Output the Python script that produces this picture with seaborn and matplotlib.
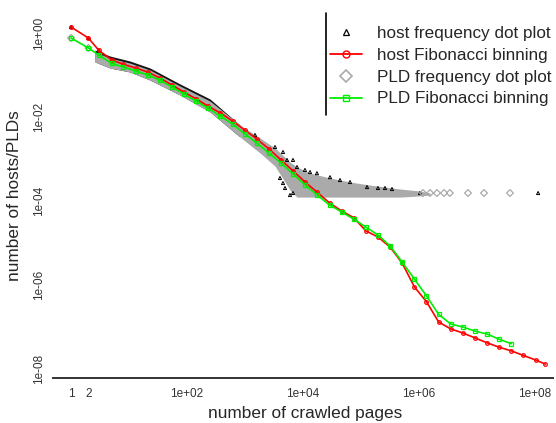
import pandas as pd
import seaborn as sns
import matplotlib.pyplot as plt
from matplotlib.lines import Line2D
from matplotlib.ticker import FixedLocator, NullFormatter

# Fibonacci bin positions (number of crawled pages)
fib_pages = [1, 2, 3, 5, 8, 13, 21, 34, 55, 89, 144, 233, 377, 610, 987, 1597,
             2584, 4181, 6765, 10946, 17711, 28657, 46368, 75025, 121393,
             196418, 317811, 514229, 832040, 1346269, 2178309, 3524578,
             5702887, 9227465, 14930352, 24157817, 39088169, 63245986,
             102334155]

host_fib_x = fib_pages + [1.5e8]
host_fib_y = [1.39, 0.76, 0.39, 0.23, 0.18, 0.147, 0.118, 0.085, 0.058, 0.039,
              0.027, 0.018, 0.0125, 0.0080, 0.0049, 0.0030, 0.00174, 9.5e-4,
              5.2e-4, 2.8e-4, 1.6e-4, 9.0e-5, 5.8e-5, 4.0e-5, 1.94e-5, 1.39e-5,
              8.0e-6, 3.3e-6, 9.0e-7, 4.0e-7, 1.32e-7, 9.0e-8, 7.2e-8, 5.5e-8,
              4.2e-8, 3.3e-8, 2.7e-8, 2.1e-8, 1.64e-8, 1.31e-8]

pld_fib_x = fib_pages[:37]
pld_fib_y = [0.76, 0.44, 0.30, 0.19, 0.155, 0.125, 0.10, 0.076, 0.052, 0.035,
             0.024, 0.016, 0.0105, 0.0068, 0.0040, 0.0024, 0.00139, 8.0e-4,
             4.4e-4, 2.4e-4, 1.38e-4, 8.0e-5, 5.5e-5, 3.7e-5, 2.4e-5, 1.55e-5,
             8.5e-6, 3.5e-6, 1.39e-6, 5.5e-7, 2.0e-7, 1.18e-7, 1.0e-7, 8.0e-8,
             6.8e-8, 5.1e-8, 4.0e-8]

# envelope of the dense frequency dot clouds
band_x = [2.6, 4.7, 10.4, 23, 76, 250, 820, 1820, 3290, 5970, 7880, 13200,
          29200, 64600, 143000, 470000, 1040000, 1550000]
pld_band_hi = [0.353, 0.254, 0.193, 0.132, 0.0547, 0.0240, 0.00645, 0.00316,
               0.00183, 8.5e-4, 6.45e-4, 4.64e-4, 3.53e-4, 2.83e-4, 2.40e-4,
               1.93e-4, 1.73e-4, 1.55e-4]
pld_band_lo = [0.204, 0.147, 0.118, 0.076, 0.0334, 0.0132, 0.00334, 0.00139,
               6.8e-4, 1.83e-4, 1.24e-4, 1.24e-4, 1.24e-4, 1.24e-4, 1.24e-4,
               1.24e-4, 1.32e-4, 1.39e-4]
host_band_x = band_x[:7]
host_band_hi = [0.394, 0.283, 0.215, 0.147, 0.0611, 0.0268, 0.00645]

# sparse dots outside the dense clouds
host_dot_x = [1, 2, 3, 5, 1490, 3290, 4520, 5300, 6720, 7880, 10800, 13200,
              17400, 29200, 43400, 64600, 127000, 196000, 259000, 342000,
              4010, 4520, 4900, 5970, 6720, 1.04e6, 1.13e8]
host_dot_y = [1.39, 0.76, 0.39, 0.23, 3.73e-3, 1.93e-3, 1.47e-3, 9.5e-4,
              9.5e-4, 6.45e-4, 5.5e-4, 4.9e-4, 4.6e-4, 3.7e-4, 3.16e-4,
              2.83e-4, 2.15e-4, 2.04e-4, 2.04e-4, 1.93e-4, 3.53e-4, 2.68e-4,
              2.04e-4, 1.39e-4, 1.55e-4, 1.55e-4, 1.55e-4]
pld_dot_x = [1, 2, 3, 5, 1.17e6, 1.55e6, 2.04e6, 2.70e6, 3.4e6, 7.0e6,
             1.32e7, 3.7e7]
pld_dot_y = [0.76, 0.44, 0.23, 0.17, 1.55e-4, 1.55e-4, 1.55e-4, 1.55e-4,
             1.55e-4, 1.55e-4, 1.55e-4, 1.55e-4]

x_ticks = [1, 2, 1e2, 1e4, 1e6, 1e8]
x_labels = ['1', '2', '1e+02', '1e+04', '1e+06', '1e+08']
y_ticks = [1, 1e-2, 1e-4, 1e-6, 1e-8]
y_labels = ['1e+00', '1e-02', '1e-04', '1e-06', '1e-08']

labels = ['host frequency dot plot', 'host Fibonacci binning',
          'PLD frequency dot plot', 'PLD Fibonacci binning']

sns.set_style('white')
plt.rcParams['font.family'] = ['Liberation Sans', 'DejaVu Sans']

W, H = 556, 423
fig = plt.figure(figsize=(W / 100, H / 100), dpi=100)
ax = fig.add_axes([53 / W, 1 - 378 / H, 500 / W, 368 / H])
ax.set_xscale('log')
ax.set_yscale('log')

gray = '#aaaaaa'
ax.fill_between(host_band_x, pld_band_lo[:7], host_band_hi, color='#111111',
                lw=0, zorder=1)
ax.fill_between(band_x, pld_band_lo, pld_band_hi, color=gray, lw=0, zorder=2)

host_dots = pd.DataFrame({'pages': host_dot_x, 'freq': host_dot_y})
pld_dots = pd.DataFrame({'pages': pld_dot_x, 'freq': pld_dot_y})
sns.scatterplot(data=host_dots, x='pages', y='freq', ax=ax, marker='^',
                s=5, facecolor='none', edgecolor='black', linewidth=0.7,
                zorder=3)
sns.scatterplot(data=pld_dots, x='pages', y='freq', ax=ax, marker='D',
                s=12, facecolor='none', edgecolor=gray, linewidth=0.9,
                zorder=3)

host_fib = pd.DataFrame({'pages': host_fib_x, 'freq': host_fib_y})
pld_fib = pd.DataFrame({'pages': pld_fib_x, 'freq': pld_fib_y})
sns.lineplot(data=host_fib, x='pages', y='freq', ax=ax, color='#ff0000',
             lw=1.2, marker='o', markersize=2.6, mfc='none', mec='#ff0000',
             mew=0.9, sort=False, zorder=4)
sns.lineplot(data=pld_fib, x='pages', y='freq', ax=ax, color='#00ee00',
             lw=1.2, marker='s', markersize=2.6, mfc='none', mec='#00ee00',
             mew=0.9, sort=False, zorder=5)

ax.set_xlim(10 ** -0.31, 10 ** 8.31)
ax.set_ylim(10 ** -8.214, 10 ** 0.548)

for side in ['top', 'right', 'left']:
    ax.spines[side].set_visible(False)
ax.spines['bottom'].set_color('#333333')
ax.spines['bottom'].set_linewidth(1.4)

ax.xaxis.set_major_locator(FixedLocator(x_ticks))
ax.set_xticklabels(x_labels)
ax.xaxis.set_minor_locator(FixedLocator([2]))
ax.xaxis.set_minor_formatter(NullFormatter())
ax.yaxis.set_major_locator(FixedLocator(y_ticks))
ax.set_yticklabels(y_labels, rotation=90, va='center')
ax.yaxis.set_minor_locator(FixedLocator([1e-8]))
ax.yaxis.set_minor_formatter(NullFormatter())
ax.tick_params(axis='x', which='major', length=0, pad=7, labelsize=8.5,
               labelcolor='#333333')
ax.tick_params(axis='y', which='major', length=0, pad=6, labelsize=8.5,
               labelcolor='#333333')
ax.tick_params(which='minor', length=3.5, width=1, color='#333333',
               direction='out', bottom=True, left=True)

ax.set_xlabel('number of crawled pages', fontsize=12.4)
ax.set_ylabel('number of hosts/PLDs', fontsize=12.4)
ax.xaxis.set_label_coords(0.505, -0.076)
ax.yaxis.set_label_coords(-0.062, 0.495)

handles = [
    Line2D([], [], ls='none', marker='^', ms=5, mfc='none', mec='black', mew=0.9),
    Line2D([], [], color='#ff0000', lw=1.3, marker='o', ms=5, mfc='none',
           mec='#ff0000', mew=1),
    Line2D([], [], ls='none', marker='D', ms=6, mfc='none', mec=gray, mew=1.2),
    Line2D([], [], color='#00ee00', lw=1.3, marker='s', ms=5, mfc='none',
           mec='#00ee00', mew=1),
]
ax.legend(handles, labels, loc='upper left', frameon=False,
          bbox_to_anchor=(330 / W, 1 - 26 / H), bbox_transform=fig.transFigure,
          borderaxespad=0, borderpad=0, fontsize=12.3, handlelength=1.9,
          handletextpad=0.85, labelspacing=0.4)
fig.add_artist(Line2D([326 / W, 326 / W], [1 - 13 / H, 1 - 115 / H],
                      transform=fig.transFigure, color='black', lw=1.2))

fig.savefig('out.png', dpi=100)
